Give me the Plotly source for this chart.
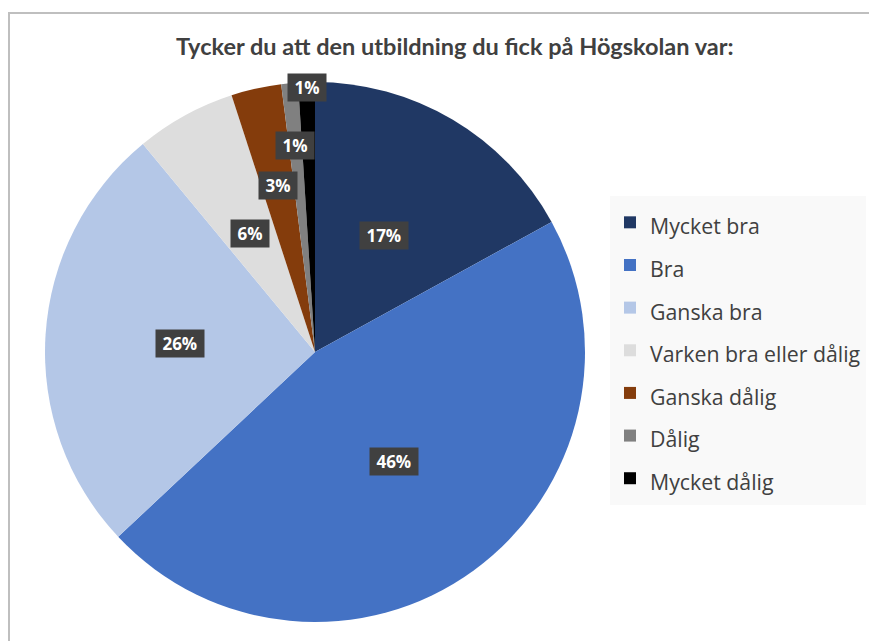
import math
import plotly.graph_objects as go

categories = ["Mycket bra", "Bra", "Ganska bra", "Varken bra eller dålig",
              "Ganska dålig", "Dålig", "Mycket dålig"]
values = [17, 46, 26, 6, 3, 1, 1]
colors = ["#203864", "#4472C4", "#B4C7E7", "#DDDDDD", "#843C0C", "#808080", "#000000"]
title_text = "Tycker du att den utbildning du fick på Högskolan var:"

# layout constants (page pixel coordinates; the page body has an 8px margin)
OFF = 8
W, H = 877 - OFF, 641 - OFF
CX, CY, R = 315 - OFF, 352 - OFF, 270
label_radius = [0.50, 0.50, 0.50, 0.50, 0.63, 0.77, 0.98]


def px(x):
    return x / W


def py(y):
    return 1 - y / H


fig = go.Figure(go.Pie(
    labels=[f'<span style="font-size:21.3px">{c}</span>' for c in categories],
    values=values,
    sort=False,
    direction="clockwise",
    rotation=0,
    marker=dict(colors=colors, line=dict(width=0)),
    textinfo="none",
    hoverinfo="label+percent",
    domain=dict(x=[px(CX - R), px(CX + R)], y=[py(CY + R), py(CY - R)]),
))

total = sum(values)
cum = 0
annotations = []
nb = "\u00a0"
for v, rf in zip(values, label_radius):
    mid = (cum + v / 2) / total * 2 * math.pi
    cum += v
    x = CX + rf * R * math.sin(mid)
    y = CY - rf * R * math.cos(mid)
    annotations.append(dict(
        x=px(x), y=py(y), xref="paper", yref="paper",
        text=f"<b>{nb}{round(v / total * 100)}%{nb}</b>", showarrow=False,
        font=dict(family="Open Sans", size=17, color="white"),
        bgcolor="#404040", borderpad=2, xanchor="center", yanchor="middle",
    ))

annotations.append(dict(
    x=px(455 - OFF), y=py(46 - OFF), xref="paper", yref="paper",
    text=f"<b>{title_text}</b>", showarrow=False,
    font=dict(family="Lato", size=23.5, color="#404040"),
    xanchor="center", yanchor="middle",
))

fig.update_layout(
    width=W, height=H,
    margin=dict(l=0, r=0, t=0, b=0),
    paper_bgcolor="white",
    font=dict(family="Open Sans", color="#404040"),
    showlegend=True,
    legend=dict(
        x=px(610 - OFF), y=py(196 - OFF), xanchor="left", yanchor="top",
        bgcolor="#F9F9F9", font=dict(family="Open Sans", size=30.5, color="#404040"),
        itemclick=False, itemdoubleclick=False,
    ),
    annotations=annotations,
    shapes=[dict(type="rect", xref="paper", yref="paper",
                 x0=px(1), y0=-0.1, x1=1.1, y1=py(5),
                 line=dict(color="#BFBFBF", width=2), layer="below")],
)

fig.write_html("out.html")
